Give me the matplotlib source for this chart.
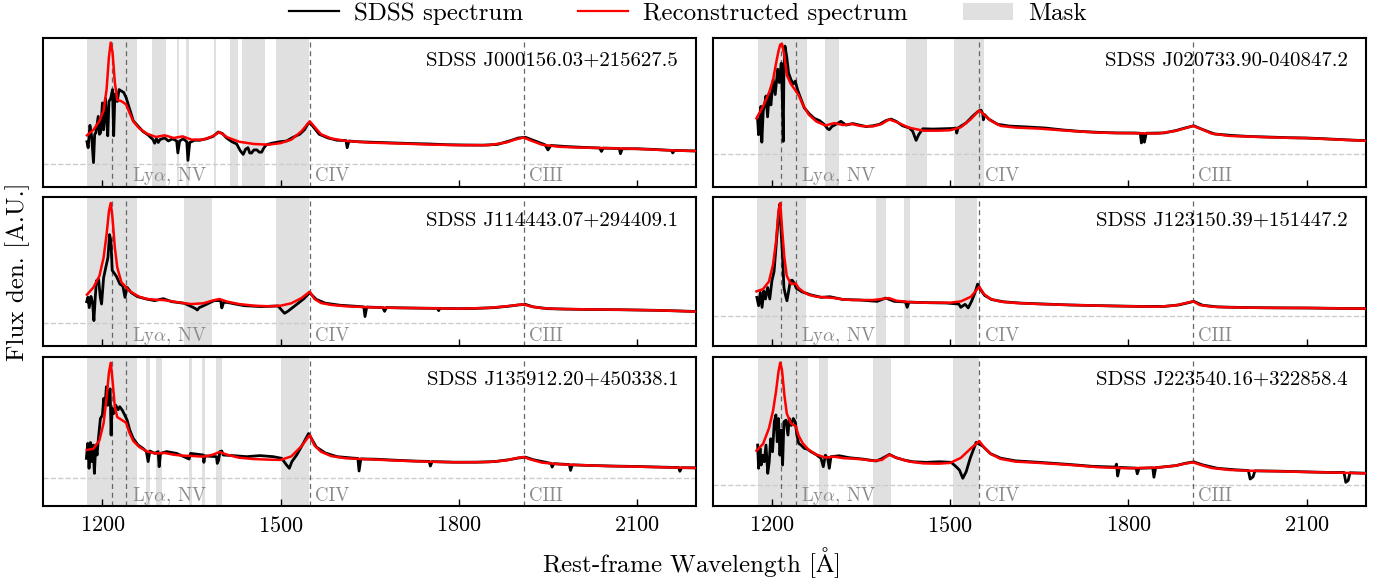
import matplotlib
matplotlib.use("Agg")
import matplotlib.pyplot as plt
from matplotlib.lines import Line2D
from matplotlib.patches import Patch
import numpy as np

plt.rcParams["font.family"] = ["cmr10", "DejaVu Serif"]
plt.rcParams["mathtext.fontset"] = "cm"
plt.rcParams["axes.formatter.use_mathtext"] = True
plt.rcParams["axes.unicode_minus"] = False

# quasar names, one per panel (row-major: left/right, top to bottom)
NAMES = [
    "SDSS J000156.03+215627.5", "SDSS J020733.90-040847.2",
    "SDSS J114443.07+294409.1", "SDSS J123150.39+151447.2",
    "SDSS J135912.20+450338.1", "SDSS J223540.16+322858.4",
]

# emission lines marked with dashed verticals
LINE_WAVE = [1216, 1240, 1549, 1909]
LINE_TEXT = [(1240, r"Ly$\alpha$, NV"), (1549, "CIV"), (1909, "CIII")]

# wavelength grid of the reconstructed (model) spectra
REC_WAVE = [1174, 1185, 1195, 1202, 1207, 1211, 1214, 1217, 1221, 1225, 1232, 1240,
            1245, 1252, 1262, 1275, 1290, 1305, 1320, 1335, 1350, 1370, 1385, 1397,
            1410, 1430, 1455, 1480, 1500, 1518, 1535, 1549, 1557, 1568, 1585, 1610,
            1650, 1700, 1750, 1800, 1850, 1880, 1895, 1909, 1920, 1940, 1970, 2000,
            2050, 2100, 2150, 2200]

REC_J0001 = [1.93, 2.3, 2.9, 3.6, 5.0, 7.2, 8.15, 7.5, 5.45, 4.3, 4.22, 4.0,
             3.5, 2.87, 2.4, 2.04, 1.82, 1.93, 1.75, 1.86, 1.64, 1.64, 1.86, 2.15,
             1.8, 1.5, 1.35, 1.3, 1.41, 1.64, 2.2, 2.87, 2.5, 2.0, 1.72, 1.55,
             1.44, 1.38, 1.31, 1.27, 1.27, 1.45, 1.65, 1.78, 1.6, 1.3, 1.16, 1.11,
             1.07, 1.02, 0.93, 0.87]
REC_J0207 = [2.4, 3.2, 4.1, 5.0, 6.1, 6.9, 7.35, 7.4, 6.6, 5.3, 4.7, 4.25,
             3.95, 3.32, 2.65, 2.18, 1.92, 2.08, 1.95, 2.02, 1.88, 1.86, 2.02, 2.33,
             2.15, 1.78, 1.57, 1.57, 1.6, 1.8, 2.35, 2.94, 2.65, 2.25, 1.89, 1.78,
             1.71, 1.56, 1.44, 1.4, 1.38, 1.56, 1.73, 1.89, 1.73, 1.38, 1.22, 1.18,
             1.11, 1.07, 0.98, 0.89]
REC_J1144 = [1.87, 2.36, 3.13, 4.36, 5.9, 7.47, 8.02, 7.0, 5.0, 3.7, 2.7, 2.36,
             2.13, 1.96, 1.73, 1.58, 1.53, 1.5, 1.4, 1.31, 1.24, 1.29, 1.47, 1.58,
             1.4, 1.24, 1.13, 1.09, 1.13, 1.29, 1.64, 2.07, 1.58, 1.31, 1.18, 1.09,
             1.02, 0.98, 0.96, 0.93, 0.98, 1.09, 1.16, 1.22, 1.09, 0.96, 0.91, 0.89,
             0.87, 0.84, 0.8, 0.73]
REC_J1231 = [1.67, 1.82, 2.33, 3.49, 5.04, 7.04, 7.6, 5.93, 3.93, 2.71, 2.16, 2.2,
             1.89, 1.67, 1.44, 1.31, 1.27, 1.22, 1.13, 1.09, 1.09, 1.09, 1.16, 1.22,
             1.04, 0.96, 0.91, 0.91, 0.91, 1.0, 1.31, 1.98, 1.49, 1.16, 0.98, 0.89,
             0.82, 0.76, 0.71, 0.67, 0.64, 0.73, 0.87, 1.0, 0.76, 0.64, 0.6, 0.58,
             0.56, 0.56, 0.53, 0.51]
REC_J1359 = [1.9, 1.98, 2.55, 3.7, 5.4, 7.1, 7.75, 6.6, 4.75, 4.1, 3.93, 3.72,
             3.1, 2.5, 2.1, 1.8, 1.66, 1.7, 1.58, 1.52, 1.5, 1.45, 1.57, 1.76,
             1.58, 1.38, 1.29, 1.25, 1.23, 1.47, 2.15, 2.9, 2.2, 1.78, 1.49, 1.34,
             1.27, 1.18, 1.11, 1.07, 1.09, 1.2, 1.34, 1.43, 1.27, 1.05, 0.94, 0.89,
             0.82, 0.78, 0.73, 0.69]
REC_J2235 = [2.3, 2.75, 3.8, 5.0, 6.3, 7.59, 8.21, 7.7, 6.03, 4.8, 4.13, 3.95,
             3.3, 2.79, 2.36, 2.03, 1.84, 1.9, 1.8, 1.77, 1.73, 1.62, 1.68, 2.03,
             1.82, 1.58, 1.45, 1.43, 1.48, 1.82, 2.46, 2.95, 2.53, 2.09, 1.75, 1.57,
             1.48, 1.35, 1.19, 1.12, 1.17, 1.3, 1.43, 1.52, 1.37, 1.14, 1.01, 0.96,
             0.92, 0.87, 0.83, 0.78]

# observed SDSS spectra as (wavelength, flux) pairs
OBS_J0001 = [
    (1174, 1.5), (1176, 1.1), (1179, 2.6), (1182, 1.8), (1185, 0.1), (1187, 2.0),
    (1189, 2.1), (1193, 3.2), (1195, 2.0), (1197, 2.1), (1200, 4.1), (1202, 2.3),
    (1205, 4.4), (1207, 3.0), (1209, 1.9), (1211, 4.2), (1214, 4.4), (1217, 5.0),
    (1219, 1.9), (1221, 4.7), (1225, 4.2), (1228, 5.0), (1232, 4.9), (1236, 4.8),
    (1240, 4.45), (1245, 3.8), (1252, 2.9), (1260, 2.55), (1268, 2.2), (1277, 1.95),
    (1285, 1.65), (1288, 1.4), (1291, 1.7), (1294, 1.45), (1297, 1.65), (1305, 1.75),
    (1311, 1.55), (1318, 1.7), (1325, 1.55), (1327, 0.75), (1330, 1.55), (1336, 1.7),
    (1342, 1.5), (1344, 0.25), (1347, 1.45), (1355, 1.6), (1364, 1.6), (1375, 1.7),
    (1386, 1.85), (1395, 2.15), (1402, 2.05), (1409, 1.75), (1418, 1.5), (1426, 1.35),
    (1432, 0.9), (1437, 0.65), (1441, 1.0), (1445, 1.1), (1448, 0.75), (1451, 0.74),
    (1455, 0.95), (1460, 0.95), (1464, 0.8), (1468, 0.8), (1472, 1.1), (1476, 1.3),
    (1485, 1.4), (1499, 1.5), (1510, 1.55), (1521, 1.8), (1532, 2.0), (1540, 2.3),
    (1546, 2.7), (1550, 2.75), (1556, 2.45), (1565, 2.0), (1580, 1.75), (1595, 1.6),
    (1610, 1.58), (1612, 1.1), (1615, 1.55), (1630, 1.5), (1660, 1.46), (1690, 1.42),
    (1720, 1.38), (1750, 1.35), (1780, 1.3), (1810, 1.28), (1840, 1.27), (1865, 1.32),
    (1885, 1.55), (1900, 1.75), (1912, 1.8), (1925, 1.6), (1945, 1.3), (1950, 0.95),
    (1955, 1.25), (1980, 1.18), (2010, 1.12), (2037, 1.08), (2040, 0.85), (2043, 1.07),
    (2070, 1.05), (2072, 0.7), (2075, 1.03), (2100, 1.03), (2130, 0.98), (2158, 0.92),
    (2160, 0.75), (2163, 0.92), (2200, 0.88),
]
OBS_J0207 = [
    (1176, 2.3), (1177.5, 1.3), (1180, 2.6), (1181.5, 3.2), (1183, 0.8), (1185.4, 2.9),
    (1187.6, 3.3), (1190, 3.9), (1192.7, 2.5), (1195.5, 4.1), (1198.3, 3.3), (1202.2, 5.0),
    (1205.6, 4.0), (1209.6, 5.7), (1212.4, 4.8), (1215.7, 6.1), (1217.4, 4.0), (1219, 0.85),
    (1220.2, 5.5), (1221.9, 7.25), (1224.7, 6.6), (1228, 5.45), (1232, 5.0), (1236, 4.7),
    (1239.3, 4.9), (1243.3, 4.3), (1247, 3.9), (1254.5, 3.1), (1263, 2.7), (1271.3, 2.4),
    (1280, 2.25), (1288, 2.0), (1293.8, 1.7), (1296.6, 1.64), (1301, 1.85), (1308, 2.0),
    (1316, 2.2), (1324.7, 1.95), (1336, 2.05), (1347, 1.95), (1358.4, 1.85), (1370, 1.9),
    (1381, 2.0), (1392, 2.25), (1400.6, 2.35), (1409, 2.2), (1420, 1.9), (1431.5, 1.75),
    (1437, 1.53), (1442.7, 0.92), (1447, 1.3), (1454, 1.7), (1471, 1.68), (1487.6, 1.7),
    (1504.5, 1.72), (1510, 1.75), (1511, 1.41), (1513.5, 1.76), (1527, 2.1), (1538, 2.55),
    (1546.6, 2.85), (1552, 2.95), (1555, 2.7), (1556, 2.3), (1558, 2.65), (1565, 2.35),
    (1580, 2.0), (1600, 1.88), (1630, 1.82), (1660, 1.75), (1690, 1.62), (1720, 1.52),
    (1750, 1.46), (1780, 1.42), (1810, 1.42), (1820, 1.4), (1822, 0.75), (1825, 1.39),
    (1827, 0.8), (1830, 1.4), (1860, 1.42), (1880, 1.58), (1895, 1.75), (1910, 1.9),
    (1925, 1.65), (1945, 1.35), (1975, 1.25), (2005, 1.18), (2040, 1.14), (2070, 1.1),
    (2100, 1.08), (2130, 1.03), (2160, 0.97), (2200, 0.9),
]
OBS_J1144 = [
    (1173.5, 1.4), (1175.7, 1.7), (1177.8, 1.0), (1180.7, 1.75), (1183.5, 1.3), (1185.7, 0.13),
    (1187.8, 1.6), (1190, 2.8), (1193.6, 2.9), (1196.4, 1.7), (1198.6, 1.24), (1202, 3.0),
    (1205.7, 3.7), (1209.3, 4.36), (1212, 5.9), (1214.3, 5.5), (1216.5, 3.5), (1220, 3.3),
    (1223.6, 3.1), (1229.4, 2.58), (1234.4, 2.45), (1238, 1.69), (1241.5, 2.36), (1248.7, 2.0),
    (1259.4, 1.73), (1273.7, 1.58), (1288, 1.47), (1302.4, 1.6), (1316.7, 1.4), (1338, 1.29),
    (1352.5, 1.02), (1356, 0.95), (1359.7, 0.84), (1363, 1.0), (1370.4, 1.13), (1388, 1.47),
    (1399, 1.47), (1401, 0.98), (1404, 1.35), (1409.8, 1.35), (1438.4, 1.13), (1467, 1.07),
    (1495.7, 1.11), (1502.9, 0.78), (1506.5, 0.62), (1510, 0.7), (1513.6, 0.8), (1524.3, 1.13),
    (1538.6, 1.58), (1545.8, 1.87), (1548.7, 2.0), (1560, 1.55), (1575, 1.3), (1600, 1.16),
    (1630, 1.08), (1640, 1.05), (1642, 0.4), (1645, 1.04), (1672, 1.0), (1675, 0.75),
    (1678, 1.0), (1710, 0.98), (1740, 0.96), (1764, 0.95), (1766, 0.8), (1768, 0.95),
    (1800, 0.93), (1830, 0.95), (1860, 1.0), (1885, 1.1), (1900, 1.18), (1912, 1.22),
    (1925, 1.05), (1950, 0.93), (1980, 0.9), (2010, 0.88), (2040, 0.87), (2070, 0.86),
    (2100, 0.84), (2130, 0.82), (2160, 0.79), (2200, 0.74),
]
OBS_J1231 = [
    (1174.7, 1.27), (1177.6, 0.71), (1180.5, 1.6), (1183.4, 0.6), (1186.3, 1.7), (1189.2, 1.16),
    (1192.8, 1.93), (1196.4, 1.16), (1200, 2.38), (1203.6, 3.0), (1207.2, 4.8), (1210.8, 6.6),
    (1213, 7.5), (1215.2, 5.93), (1218, 3.93), (1220.2, 1.93), (1222.4, 1.49), (1225.3, 1.04),
    (1228.2, 1.7), (1231, 2.38), (1234, 2.42), (1237, 2.27), (1241, 1.89), (1250.6, 1.64),
    (1265, 1.44), (1283, 1.27), (1297.6, 1.31), (1319, 1.13), (1348, 1.09), (1377, 1.0),
    (1391.6, 1.22), (1406, 1.0), (1424.8, 0.96), (1427.7, 0.6), (1430.6, 0.95), (1464, 0.91),
    (1492.8, 0.89), (1514.5, 0.82), (1518, 0.6), (1521.7, 0.71), (1525.3, 0.8), (1530.4, 0.56),
    (1536, 1.0), (1542, 1.6), (1546.3, 2.16), (1550.6, 1.82), (1558, 1.4), (1570, 1.12),
    (1590, 0.97), (1620, 0.88), (1660, 0.82), (1700, 0.76), (1740, 0.72), (1780, 0.69),
    (1820, 0.66), (1860, 0.66), (1885, 0.76), (1900, 0.9), (1910, 1.0), (1925, 0.74),
    (1950, 0.63), (1990, 0.59), (2030, 0.57), (2070, 0.56), (2110, 0.55), (2150, 0.53),
    (2200, 0.51),
]
OBS_J1359 = [
    (1173, 1.34), (1175.3, 2.34), (1177.5, 0.67), (1179.8, 2.4), (1182, 1.12), (1184.3, 2.23),
    (1186.5, 0.33), (1188.8, 2.23), (1191, 1.56), (1193.3, 2.68), (1196.6, 4.0), (1200, 4.24),
    (1202.2, 5.36), (1204.5, 4.9), (1206.7, 6.14), (1209, 4.9), (1211.2, 5.8), (1213, 6.0),
    (1214.6, 2.9), (1216.3, 4.7), (1219, 4.35), (1222.5, 4.9), (1226.4, 4.6), (1229.2, 4.8),
    (1233.7, 4.55), (1237.6, 4.24), (1241.6, 3.9), (1246, 3.24), (1251.7, 2.68), (1260, 2.23),
    (1268.5, 2.0), (1274, 1.79), (1277, 1.12), (1279.8, 1.83), (1288.2, 1.67), (1293.8, 1.79),
    (1295.5, 0.78), (1297.8, 1.67), (1308, 1.79), (1324.7, 1.67), (1346, 1.29), (1348.3, 1.67),
    (1369.7, 1.56), (1370.8, 1.07), (1372.5, 1.5), (1392, 1.45), (1393.3, 1.0), (1395.5, 1.2),
    (1397.8, 1.79), (1401, 1.83), (1403.4, 1.56), (1420, 1.52), (1442.7, 1.45), (1465, 1.52),
    (1487.6, 1.45), (1501.7, 1.34), (1510, 0.89), (1514.6, 0.67), (1519, 1.12), (1527, 1.56),
    (1538, 2.34), (1547, 3.0), (1560, 2.1), (1575, 1.7), (1595, 1.45), (1620, 1.36),
    (1630, 1.33), (1632, 0.49), (1635, 1.3), (1660, 1.28), (1700, 1.2), (1730, 1.15),
    (1750, 1.13), (1752, 0.82), (1755, 1.12), (1790, 1.08), (1830, 1.08), (1860, 1.12),
    (1885, 1.25), (1900, 1.36), (1912, 1.42), (1925, 1.25), (1955, 1.0), (1957, 0.75),
    (1960, 0.98), (1986, 0.92), (1988, 0.53), (1991, 0.9), (2020, 0.86), (2060, 0.82),
    (2100, 0.79), (2140, 0.75), (2170, 0.72), (2172, 0.47), (2175, 0.71), (2200, 0.7),
]
OBS_J2235 = [
    (1176, 2.68), (1177.5, 1.12), (1180, 2.46), (1182, 1.34), (1184.3, 2.0), (1187, 1.56),
    (1190, 2.68), (1193, 0.78), (1195.5, 1.56), (1197.8, 3.1), (1201, 2.23), (1204, 4.24),
    (1206.7, 4.7), (1209, 2.9), (1211, 4.46), (1213.5, 2.0), (1215.7, 3.68), (1218, 1.34),
    (1220.2, 4.24), (1223.6, 4.35), (1227, 3.35), (1229.2, 4.46), (1232.6, 4.0), (1236, 4.46),
    (1239.3, 4.24), (1242, 3.35), (1245, 2.79), (1249, 2.68), (1254.5, 2.46), (1260, 2.4),
    (1265.7, 2.23), (1274, 2.05), (1282.6, 1.79), (1286.5, 1.23), (1290, 2.0), (1293.8, 1.79),
    (1296.6, 1.12), (1299.4, 1.9), (1313.5, 1.96), (1330, 1.83), (1352.8, 1.74), (1375, 1.61),
    (1383.7, 1.74), (1397.8, 2.05), (1409, 1.83), (1423, 1.67), (1437, 1.56), (1459.6, 1.52),
    (1482, 1.56), (1501.7, 1.52), (1510, 1.23), (1515.7, 1.0), (1521.3, 0.45), (1527, 0.89),
    (1533.7, 1.79), (1543.8, 2.86), (1555, 2.6), (1568, 2.1), (1585, 1.8), (1610, 1.62),
    (1650, 1.52), (1700, 1.38), (1740, 1.25), (1778, 1.2), (1780, 1.4), (1782, 0.6),
    (1785, 1.18), (1813, 1.13), (1815, 0.75), (1818, 1.12), (1841, 1.15), (1843, 0.52),
    (1846, 1.16), (1880, 1.3), (1895, 1.45), (1910, 1.55), (1925, 1.35), (1950, 1.12),
    (1980, 1.02), (2002, 0.97), (2005, 0.4), (2010, 0.55), (2013, 0.95), (2050, 0.93),
    (2100, 0.88), (2140, 0.84), (2163, 0.84), (2166, 0.18), (2170, 0.3), (2173, 0.82),
    (2200, 0.79),
]

# masked wavelength ranges per panel
MASK_J0001 = [(1174, 1258), (1283, 1307), (1325, 1329), (1340, 1345), (1388, 1392),
              (1415, 1429), (1435, 1474), (1492, 1548)]
MASK_J0207 = [(1176, 1259), (1289, 1313), (1426, 1461), (1507, 1557)]
MASK_J1144 = [(1174, 1258), (1337, 1384), (1492, 1547)]
MASK_J1231 = [(1175, 1258), (1376, 1392), (1423, 1433), (1509, 1546)]
MASK_J1359 = [(1174, 1258), (1274, 1280), (1291, 1301), (1346, 1350), (1367, 1372),
              (1391, 1401), (1500, 1548)]
MASK_J2235 = [(1176, 1260), (1279, 1294), (1370, 1401), (1505, 1549)]

YLIMS = [(-1.52, 8.48), (-2.19, 7.81), (-1.6, 8.4), (-2.02, 7.98), (-1.86, 8.14), (-1.41, 8.59)]

REC = [REC_J0001, REC_J0207, REC_J1144, REC_J1231, REC_J1359, REC_J2235]
OBS = [OBS_J0001, OBS_J0207, OBS_J1144, OBS_J1231, OBS_J1359, OBS_J2235]
MASKS = [MASK_J0001, MASK_J0207, MASK_J1144, MASK_J1231, MASK_J1359, MASK_J2235]

MASK_C = "#e0e0e0"

fig, axes = plt.subplots(3, 2, figsize=(13.81, 5.81), dpi=100, sharex=True)
fig.subplots_adjust(left=43 / 1381, right=1366 / 1381, top=1 - 37.7 / 581,
                    bottom=1 - 506 / 581, wspace=0.0245, hspace=0.071)

for i, ax in enumerate(axes.flat):
    for lo, hi in MASKS[i]:
        ax.axvspan(lo, hi, color=MASK_C, lw=0, zorder=0)
    ax.axhline(0, color="0.8", ls="--", lw=1.0, zorder=1)
    for w in LINE_WAVE:
        ax.axvline(w, color="0.4", ls="--", lw=0.9, dashes=(4, 3), zorder=1)
    obs = np.array(OBS[i])
    ax.plot(obs[:, 0], obs[:, 1], color="black", lw=2.0, zorder=2)
    ax.plot(REC_WAVE, REC[i], color="red", lw=1.8, zorder=3)
    for w, txt in LINE_TEXT:
        ax.text(w + 9, 0.07, txt, transform=ax.get_xaxis_transform(),
                ha="left", va="center", fontsize=13.5, color="0.55")
    ax.text(0.972, 0.845, NAMES[i], transform=ax.transAxes,
            ha="right", va="center", fontsize=15)
    ax.set_xlim(1100, 2200)
    ax.set_ylim(*YLIMS[i])
    ax.set_yticks([])
    ax.set_xticks([1200, 1500, 1800, 2100])
    ax.tick_params(axis="x", direction="in", length=5, width=1, labelsize=16, pad=7)
    for s in ax.spines.values():
        s.set_linewidth(1.5)

handles = [Line2D([], [], color="black", lw=1.6),
           Line2D([], [], color="red", lw=1.6),
           Patch(facecolor=MASK_C, edgecolor="none")]
fig.legend(handles, ["SDSS spectrum", "Reconstructed spectrum", "Mask"],
           loc="center", bbox_to_anchor=(0.498, 0.976), ncol=3, frameon=False,
           fontsize=18, handlelength=2.0, handletextpad=0.6, columnspacing=2.2)

fig.text(0.5, 1 - 563 / 581, r"Rest-frame Wavelength [$\mathrm{\AA}$]",
         ha="center", va="center", fontsize=18)
fig.text(0.013, 1 - 272 / 581, "Flux den. [A.U.]", rotation=90,
         ha="center", va="center", fontsize=18)

fig.savefig("out.png", dpi=100)
